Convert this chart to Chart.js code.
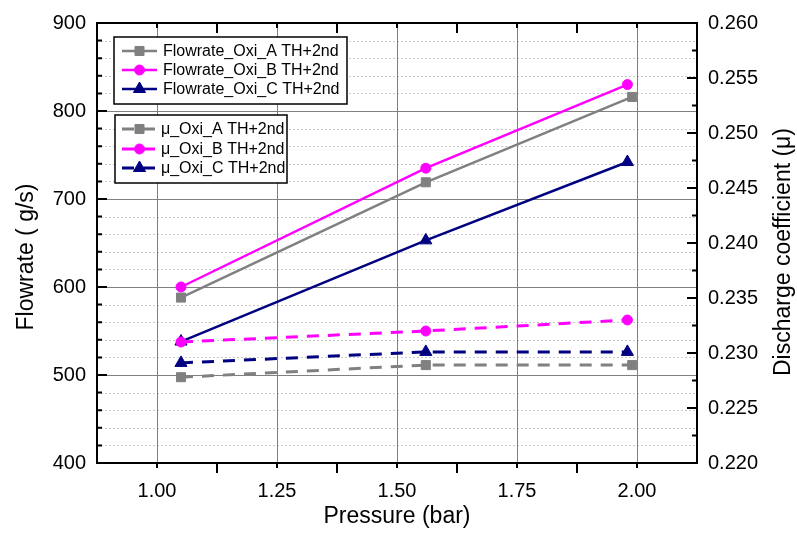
<!DOCTYPE html>
<html>
<head>
<meta charset="utf-8">
<script src="https://cdn.jsdelivr.net/npm/chart.js@4.4.0/dist/chart.umd.min.js"></script>
<style>
  body { margin: 0; background: #fff; }
  #wrap { width: 797px; height: 534px; }
</style>
</head>
<body>
<div id="wrap"><canvas id="chart"></canvas></div>
<script>
// pressure (bar) of each measured point
const pressureA = [1.05, 1.56, 1.99];
const pressureBC = [1.05, 1.56, 1.98];

// flowrate (g/s), left axis
const flowA = [588, 719, 816];
const flowB = [600, 735, 830];
const flowC = [538, 653, 742];

// discharge coefficient, right axis
const muA = [0.2278, 0.2289, 0.2289];
const muB = [0.2310, 0.2320, 0.2330];
const muC = [0.2291, 0.2301, 0.2301];

const xTicks = [1.00, 1.25, 1.50, 1.75, 2.00];
const flowTicks = [400, 500, 600, 700, 800, 900];
const muTicks = [0.220, 0.225, 0.230, 0.235, 0.240, 0.245, 0.250, 0.255, 0.260];

const xTitle = 'Pressure (bar)';
const flowTitle = 'Flowrate ( g/s)';
const muTitle = 'Discharge coefficient (\u03bc)';

const FONT = '"Liberation Sans", Arial, sans-serif';
const GRAY = '#808080', MAG = '#ff00ff', NAVY = '#000080';

const pts = (xs, ys) => xs.map((x, i) => ({ x: x, y: ys[i] }));

function series(label, xs, ys, axis, color, style, radius, dashed) {
  return {
    label: label,
    data: pts(xs, ys),
    yAxisID: axis,
    order: dashed ? 0 : 1,   // mu curves sit on top of the flowrate curves
    borderColor: color,
    backgroundColor: color,
    borderWidth: dashed ? 3 : 2.5,
    borderDash: dashed ? [12, 9] : [],
    pointStyle: style,
    pointRadius: radius,
    pointBorderWidth: 1,
    pointBackgroundColor: color,
    pointBorderColor: color,
    tension: 0,
    fill: false
  };
}

const datasets = [
  series('Flowrate_Oxi_A TH+2nd', pressureA, flowA, 'y', GRAY, 'rect', 6.4, false),
  series('Flowrate_Oxi_B TH+2nd', pressureBC, flowB, 'y', MAG, 'circle', 5, false),
  series('Flowrate_Oxi_C TH+2nd', pressureBC, flowC, 'y', NAVY, 'triangle', 7, false),
  series('\u03bc_Oxi_A TH+2nd', pressureA, muA, 'y1', GRAY, 'rect', 6.4, true),
  series('\u03bc_Oxi_B TH+2nd', pressureBC, muB, 'y1', MAG, 'circle', 5, true),
  series('\u03bc_Oxi_C TH+2nd', pressureBC, muC, 'y1', NAVY, 'triangle', 7, true)
];

function marker(ctx, style, r, x, y, color) {
  ctx.fillStyle = color;
  ctx.strokeStyle = color;
  ctx.lineWidth = 1;
  ctx.setLineDash([]);
  ctx.beginPath();
  if (style === 'rect') {
    const s = r * Math.SQRT1_2;
    ctx.rect(x - s, y - s, 2 * s, 2 * s);
  } else if (style === 'circle') {
    ctx.arc(x, y, r, 0, Math.PI * 2);
  } else {
    ctx.moveTo(x, y - r);
    ctx.lineTo(x + r * Math.sin(Math.PI * 2 / 3), y + r / 2);
    ctx.lineTo(x - r * Math.sin(Math.PI * 2 / 3), y + r / 2);
    ctx.closePath();
  }
  ctx.fill();
  ctx.stroke();
}

function legendBox(ctx, list, box, rowY, textX) {
  ctx.fillStyle = '#fff';
  ctx.fillRect(box[0], box[1], box[2], box[3]);
  ctx.strokeStyle = '#000';
  ctx.lineWidth = 1.5;
  ctx.setLineDash([]);
  ctx.strokeRect(box[0], box[1], box[2], box[3]);
  list.forEach((ds, i) => {
    const yy = rowY[i];
    ctx.strokeStyle = ds.borderColor;
    ctx.lineWidth = ds.borderWidth;
    ctx.setLineDash(ds.borderDash);
    ctx.beginPath();
    ctx.moveTo(122, yy);
    ctx.lineTo(157, yy);
    ctx.stroke();
    marker(ctx, ds.pointStyle, ds.pointRadius, 139.5, yy, ds.borderColor);
    ctx.fillStyle = '#000';
    ctx.font = '16px ' + FONT;
    ctx.textAlign = 'left';
    ctx.textBaseline = 'middle';
    ctx.fillText(ds.label, textX, yy + 1);
  });
}

const frame = {
  id: 'frame',
  beforeDatasetsDraw(chart) {
    const { ctx, chartArea: a, scales: { x, y } } = chart;
    ctx.save();
    ctx.lineWidth = 1;
    // minor grid, dotted
    ctx.strokeStyle = '#c8c8c8';
    ctx.setLineDash([2, 2]);
    ctx.beginPath();
    for (let v = 420; v < 900; v += 20) {
      if (v % 100 === 0) continue;
      const py = Math.round(y.getPixelForValue(v)) + 0.5;
      ctx.moveTo(a.left, py); ctx.lineTo(a.right, py);
    }
    for (let k = 1; k < 10; k += 2) {
      const px = Math.round(x.getPixelForValue(0.875 + k * 0.125)) + 0.5;
      ctx.moveTo(px, a.top); ctx.lineTo(px, a.bottom);
    }
    ctx.stroke();
    // major grid, solid
    ctx.strokeStyle = GRAY;
    ctx.setLineDash([]);
    ctx.beginPath();
    flowTicks.forEach(v => {
      const py = Math.round(y.getPixelForValue(v)) + 0.5;
      ctx.moveTo(a.left, py); ctx.lineTo(a.right, py);
    });
    xTicks.forEach(v => {
      const px = Math.round(x.getPixelForValue(v)) + 0.5;
      ctx.moveTo(px, a.top); ctx.lineTo(px, a.bottom);
    });
    ctx.stroke();
    ctx.restore();
  },
  afterDraw(chart) {
    const { ctx, chartArea: a, scales: { x, y, y1 } } = chart;
    ctx.save();
    ctx.strokeStyle = '#000';
    ctx.lineWidth = 2;
    ctx.setLineDash([]);
    ctx.strokeRect(a.left, a.top, a.right - a.left, a.bottom - a.top);
    ctx.beginPath();
    // left axis ticks (inward)
    for (let v = 400; v <= 900; v += 20) {
      const py = y.getPixelForValue(v);
      ctx.moveTo(a.left, py); ctx.lineTo(a.left + (v % 100 ? 5 : 10), py);
    }
    // right axis ticks (inward)
    for (let k = 0; k <= 16; k++) {
      const py = y1.getPixelForValue(0.220 + k * 0.0025);
      ctx.moveTo(a.right, py); ctx.lineTo(a.right - (k % 2 ? 5 : 10), py);
    }
    // bottom (outward) and top (inward) ticks
    for (let k = 1; k < 10; k++) {
      const px = x.getPixelForValue(0.875 + k * 0.125);
      const len = k % 2 ? 5 : 10;
      ctx.moveTo(px, a.bottom); ctx.lineTo(px, a.bottom + len);
      ctx.moveTo(px, a.top); ctx.lineTo(px, a.top + len);
    }
    ctx.stroke();

    // rotated axis titles
    ctx.fillStyle = '#000';
    ctx.font = '23px ' + FONT;
    ctx.textAlign = 'center';
    ctx.textBaseline = 'middle';
    ctx.save();
    ctx.translate(27, 257);
    ctx.rotate(-Math.PI / 2);
    ctx.fillText(flowTitle, 0, 0);
    ctx.restore();
    ctx.save();
    ctx.translate(784, 252);
    ctx.rotate(-Math.PI / 2);
    ctx.fillText(muTitle, 0, 0);
    ctx.restore();

    // the two legend boxes
    const ds = chart.data.datasets;
    legendBox(ctx, ds.slice(0, 3), [114, 37, 233, 67], [51, 70, 89], 163);
    legendBox(ctx, ds.slice(3, 6), [115, 115, 172, 68], [129, 149, 168], 161);
    ctx.restore();
  }
};

const tickFont = { family: FONT, size: 20 };

new Chart(document.getElementById('chart'), {
  type: 'line',
  data: { datasets: datasets },
  options: {
    responsive: true,
    maintainAspectRatio: false,
    devicePixelRatio: 1,
    animation: false,
    layout: { padding: { top: 21, left: 0, right: 0, bottom: 0 } },
    plugins: { legend: { display: false }, tooltip: { enabled: false } },
    scales: {
      x: {
        type: 'linear',
        min: 0.875,
        max: 2.125,
        afterBuildTicks: ax => { ax.ticks = xTicks.map(v => ({ value: v })); },
        afterFit: ax => { ax.height = 71; },
        grid: { display: false, drawTicks: false },
        border: { display: false },
        ticks: { font: tickFont, color: '#000', padding: 16, maxRotation: 0, autoSkip: false,
                 callback: v => Number(v).toFixed(2) },
        title: { display: true, text: xTitle, color: '#000',
                 font: { family: FONT, size: 23 }, padding: { top: 0, bottom: 4 } }
      },
      y: {
        type: 'linear',
        position: 'left',
        min: 400,
        max: 900,
        afterBuildTicks: ax => { ax.ticks = flowTicks.map(v => ({ value: v })); },
        afterFit: ax => { ax.width = 97; },
        grid: { display: false, drawTicks: false },
        border: { display: false },
        ticks: { font: tickFont, color: '#000', padding: 11, autoSkip: false,
                 callback: v => String(v) }
      },
      y1: {
        type: 'linear',
        position: 'right',
        min: 0.220,
        max: 0.260,
        afterBuildTicks: ax => { ax.ticks = muTicks.map(v => ({ value: v })); },
        afterFit: ax => { ax.width = 100; },
        grid: { display: false, drawTicks: false },
        border: { display: false },
        ticks: { font: tickFont, color: '#000', padding: 11, autoSkip: false,
                 callback: v => Number(v).toFixed(3) }
      }
    }
  },
  plugins: [frame]
});
</script>
</body>
</html>
